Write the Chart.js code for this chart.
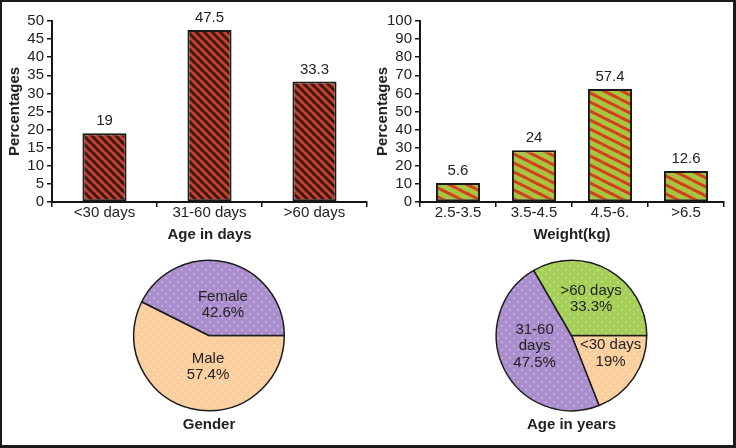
<!DOCTYPE html>
<html>
<head>
<meta charset="utf-8">
<script src="https://cdn.jsdelivr.net/npm/chart.js@4.4.0/dist/chart.umd.min.js"></script>
<style>
  html, body { margin: 0; padding: 0; background: #fff; }
  body { width: 736px; height: 448px; position: relative; overflow: hidden; }
  canvas { position: absolute; }
  #frame {
    position: absolute; left: 0; top: 0; width: 736px; height: 448px;
    box-sizing: border-box; border-style: solid; border-color: #1b1b1b;
    border-width: 2px 3px 3px 2px; pointer-events: none;
  }
</style>
</head>
<body>
<canvas id="genderPie" width="368" height="208" style="left:0;top:240px;"></canvas>
<canvas id="agePie" width="368" height="208" style="left:368px;top:240px;"></canvas>
<canvas id="ageBar" width="368" height="250" style="left:0;top:0;"></canvas>
<canvas id="weightBar" width="368" height="250" style="left:368px;top:0;"></canvas>
<div id="frame"></div>
<script>
// Bar chart 1: age in days
const ageLabels = ["<30 days", "31-60 days", ">60 days"];
const ageValues = [19, 47.5, 33.3];

// Bar chart 2: weight (the drawn bars sit higher than their printed values)
const weightLabels = ["2.5-3.5", "3.5-4.5", "4.5-6.", ">6.5"];
const weightBarHeights = [10.5, 28.6, 62.4, 17.1];
const weightValueTexts = ["5.6", "24", "57.4", "12.6"];

// Pie 1: gender
const genderLabels = ["Male", "Female"];
const genderValues = [57.4, 42.6];
const genderTexts = [["Male", "57.4%"], ["Female", "42.6%"]];

// Pie 2: age groups
const ageGroupLabels = ["<30 days", "31-60 days", ">60 days"];
const ageGroupValues = [19, 47.5, 33.3];
const ageGroupTexts = [["<30 days", "19%"], ["31-60", "days", "47.5%"], [">60 days", "33.3%"]];

const family = "'Liberation Sans', Arial, Helvetica, sans-serif";
const textColor = "#222";
const axisColor = "#161616";

// diagonal stripes going down to the right
function stripePattern(bg, fg, w, h, lineW) {
  const c = document.createElement("canvas");
  c.width = w;
  c.height = h;
  const g = c.getContext("2d");
  g.fillStyle = bg;
  g.fillRect(0, 0, w, h);
  g.strokeStyle = fg;
  g.lineWidth = lineW;
  for (const [dx, dy] of [[0, 0], [-w, 0], [w, 0], [0, -h], [0, h]]) {
    g.beginPath();
    g.moveTo(dx, dy);
    g.lineTo(w + dx, h + dy);
    g.stroke();
  }
  return g.createPattern(c, "repeat");
}

// base colour with small white dots
function dotPattern(bg) {
  const c = document.createElement("canvas");
  c.width = 8;
  c.height = 8;
  const g = c.getContext("2d");
  g.fillStyle = bg;
  g.fillRect(0, 0, 8, 8);
  g.fillStyle = "rgba(255,255,255,0.75)";
  for (const [x, y] of [[2, 2], [6, 6]]) {
    g.beginPath();
    g.arc(x, y, 0.7, 0, Math.PI * 2);
    g.fill();
  }
  return g.createPattern(c, "repeat");
}

const valueLabelPlugin = {
  id: "valueLabels",
  afterDatasetsDraw(chart, args, opts) {
    const ctx = chart.ctx;
    const bars = chart.getDatasetMeta(0).data;
    ctx.save();
    ctx.font = "15px " + family;
    ctx.fillStyle = textColor;
    ctx.textAlign = "center";
    ctx.textBaseline = "middle";
    bars.forEach((bar, i) => ctx.fillText(opts.texts[i], bar.x, bar.y - 12));
    ctx.restore();
  }
};

const pieLabelPlugin = {
  id: "pieLabels",
  afterDatasetsDraw(chart, args, opts) {
    const ctx = chart.ctx;
    const arcs = chart.getDatasetMeta(0).data;
    ctx.save();
    ctx.font = "15px " + family;
    ctx.fillStyle = textColor;
    ctx.textAlign = "center";
    ctx.textBaseline = "middle";
    arcs.forEach((arc, i) => {
      const [frac, shift] = opts.place[i];
      const mid = (arc.startAngle + arc.endAngle) / 2 + shift * Math.PI / 180;
      const cx = arc.x + Math.cos(mid) * arc.outerRadius * frac;
      const cy = arc.y + Math.sin(mid) * arc.outerRadius * frac;
      const lines = opts.lines[i];
      const lh = 16.5;
      lines.forEach((t, k) => {
        ctx.fillText(t, cx, cy + (k - (lines.length - 1) / 2) * lh);
      });
    });
    ctx.restore();
  }
};

function barOptions(xTitle, yMax, yStep, rightPad, texts) {
  return {
    responsive: false,
    animation: false,
    devicePixelRatio: 1,
    layout: { padding: { top: 21, right: rightPad, left: 0, bottom: 0 } },
    plugins: {
      legend: { display: false },
      tooltip: { enabled: false },
      valueLabels: { texts: texts }
    },
    scales: {
      x: {
        grid: { offset: true, drawOnChartArea: false, tickLength: 5, color: axisColor, lineWidth: 1.5 },
        border: { color: axisColor, width: 2 },
        ticks: { color: textColor, font: { family: family, size: 15 }, padding: -3, maxRotation: 0, autoSkip: false },
        title: {
          display: true, text: xTitle, color: textColor,
          font: { family: family, size: 15, weight: "bold" },
          padding: { top: 0, bottom: 6 }
        },
        afterFit(scale) {
          scale.height = 48;
          scale.paddingLeft = 0;
          scale.paddingRight = 0;
        }
      },
      y: {
        min: 0,
        max: yMax,
        grid: { drawOnChartArea: false, tickLength: 5, color: axisColor, lineWidth: 1.5 },
        border: { color: axisColor, width: 2 },
        ticks: { stepSize: yStep, autoSkip: false, color: textColor, font: { family: family, size: 15 }, padding: 3 },
        title: {
          display: true, text: "Percentages", color: textColor,
          font: { family: family, size: 15, weight: "bold" },
          padding: { top: 6, bottom: 0 }
        },
        afterFit(scale) {
          scale.width = 52;
          scale.paddingTop = 0;
          scale.paddingBottom = 0;
        }
      }
    }
  };
}

new Chart(document.getElementById("ageBar"), {
  type: "bar",
  data: {
    labels: ageLabels,
    datasets: [{
      data: ageValues,
      backgroundColor: stripePattern("#3a1712", "#c5412f", 8, 8, 3),
      borderColor: "#1a1a1a",
      borderWidth: 2,
      borderSkipped: false,
      categoryPercentage: 1,
      barPercentage: 0.42
    }]
  },
  options: barOptions("Age in days", 50, 5, 1, ageValues.map(String)),
  plugins: [valueLabelPlugin]
});

new Chart(document.getElementById("weightBar"), {
  type: "bar",
  data: {
    labels: weightLabels,
    datasets: [{
      data: weightBarHeights,
      backgroundColor: stripePattern("#a7c540", "#d3401d", 18, 9, 3),
      borderColor: "#1a1a1a",
      borderWidth: 2,
      borderSkipped: false,
      categoryPercentage: 1,
      barPercentage: 0.58
    }]
  },
  options: barOptions("Weight(kg)", 100, 10, 12, weightValueTexts),
  plugins: [valueLabelPlugin]
});

function pieOptions(title, padLeft, padRight, lines, place) {
  return {
    responsive: false,
    animation: false,
    devicePixelRatio: 1,
    rotation: 90,
    layout: { padding: { left: padLeft, right: padRight, top: 19.5, bottom: 0 } },
    plugins: {
      legend: { display: false },
      tooltip: { enabled: false },
      title: {
        display: true, position: "bottom", text: title, color: textColor,
        font: { family: family, size: 15, weight: "bold" },
        padding: { top: 4.5, bottom: 14 }
      },
      pieLabels: { lines: lines, place: place }
    }
  };
}

const peach = "#fbcf9d";
const purple = "#a98dcc";
const green = "#a5cf57";

new Chart(document.getElementById("genderPie"), {
  type: "pie",
  data: {
    labels: genderLabels,
    datasets: [{
      data: genderValues,
      backgroundColor: [dotPattern(peach), dotPattern(purple)],
      borderColor: "#1c1c1c",
      borderWidth: 1.5
    }]
  },
  options: pieOptions("Gender", 133, 83, genderTexts, [[0.42, -11.5], [0.45, 11]]),
  plugins: [pieLabelPlugin]
});

new Chart(document.getElementById("agePie"), {
  type: "pie",
  data: {
    labels: ageGroupLabels,
    datasets: [{
      data: ageGroupValues,
      backgroundColor: [dotPattern(peach), dotPattern(purple), dotPattern(green)],
      borderColor: "#1c1c1c",
      borderWidth: 1.5
    }]
  },
  options: pieOptions("Age in years", 127.5, 88.5, ageGroupTexts, [[0.57, -10], [0.51, 9.8], [0.55, -1.6]]),
  plugins: [pieLabelPlugin]
});
</script>
</body>
</html>
